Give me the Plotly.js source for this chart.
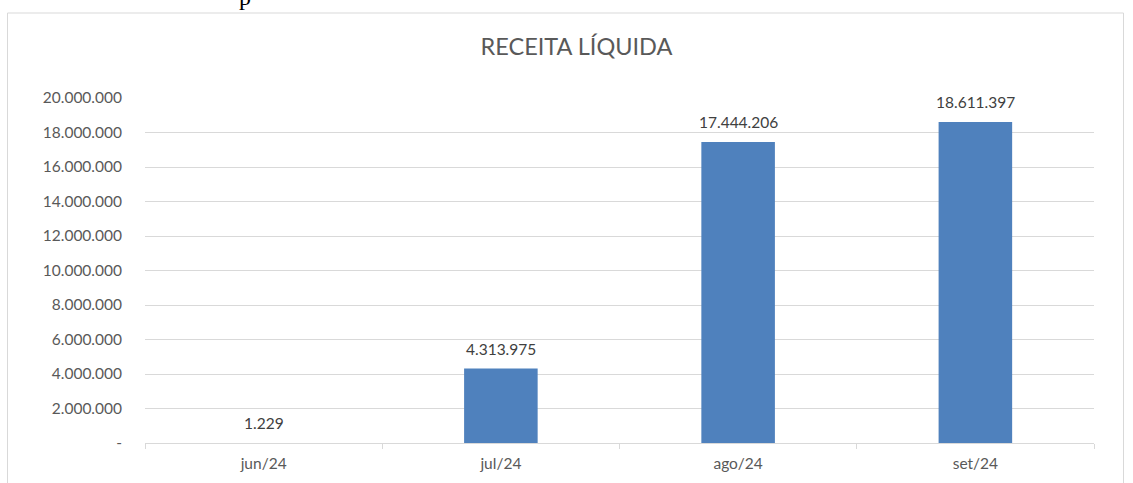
<!DOCTYPE html>
<html>
<head>
<meta charset="utf-8">
<script src="https://cdn.plot.ly/plotly-3.0.1.min.js"></script>
<style>html,body{margin:0;padding:0;background:#fff;}#chart{width:1133px;height:483px;}</style>
</head>
<body>
<div id="chart"></div>
<script>
const categories = ["jun/24", "jul/24", "ago/24", "set/24"];
const values = [1229, 4313975, 17444206, 18611397];
const yTickVals = [0, 2000000, 4000000, 6000000, 8000000, 10000000, 12000000, 14000000, 16000000, 18000000, 20000000];
const yTickText = ["-", "2.000.000", "4.000.000", "6.000.000", "8.000.000", "10.000.000", "12.000.000", "14.000.000", "16.000.000", "18.000.000", "20.000.000"];

const L = 145, R = 39, T = 98, B = 40, W = 1133, H = 483;
const pw = W - L - R, ph = H - T - B;
const px = x => (x - L) / pw;
const py = y => (H - B - y) / ph;
const FONT = "Lato, 'Open Sans', sans-serif";

const trace = {
  type: "bar",
  x: categories,
  y: values,
  marker: {color: "#4F81BD", line: {width: 0}},
  hoverinfo: "x+y"
};

const labelAnnotations = categories.map((c, i) => ({
  x: c, y: values[i], xref: "x", yref: "y",
  text: values[i].toLocaleString("de-DE"),
  showarrow: false, yanchor: "bottom", yshift: 9,
  font: {family: FONT, size: 15.5, color: "#404040"}
}));

const layout = {
  width: W, height: H,
  margin: {l: L, r: R, t: T, b: B, pad: 0},
  paper_bgcolor: "#fff", plot_bgcolor: "#fff",
  separators: ",.",
  bargap: 0.69,
  showlegend: false,
  font: {family: FONT, color: "#595959", size: 15.5},
  title: {text: "RECEITA LÍQUIDA", x: 576.5 / W, xref: "container", xanchor: "center", y: 1 - 47 / H, yanchor: "middle", yref: "container",
          font: {family: FONT, size: 23.5, color: "#595959"}},
  xaxis: {
    type: "category",
    showgrid: false,
    showline: true, linecolor: "#D9D9D9", linewidth: 1,
    ticks: "outside", tickson: "boundaries", ticklen: 5, tickcolor: "#D9D9D9",
    ticklabelstandoff: 6,
    tickfont: {size: 15.5, color: "#595959"},
    zeroline: false,
    fixedrange: true
  },
  yaxis: {
    range: [0, 20000000],
    tickvals: yTickVals, ticktext: yTickText,
    showgrid: true, gridcolor: "#D9D9D9", gridwidth: 1,
    zeroline: false, showline: false,
    ticks: "", ticklabelstandoff: 22,
    tickfont: {size: 15.5, color: "#595959"},
    fixedrange: true
  },
  shapes: [{
    type: "rect", xref: "paper", yref: "paper",
    x0: px(7.5), x1: px(1123.5), y0: py(13), y1: py(520),
    line: {color: "#D9D9D9", width: 1}, fillcolor: "rgba(0,0,0,0)", layer: "below"
  }],
  annotations: labelAnnotations.concat([{
    text: "p", xref: "paper", yref: "paper", x: px(245), y: py(12), xanchor: "center", yanchor: "bottom",
    showarrow: false, font: {family: "'Liberation Serif', serif", size: 24, color: "#000"}
  }])
};

Plotly.newPlot("chart", [trace], layout, {displayModeBar: false, staticPlot: true});
</script>
</body>
</html>
